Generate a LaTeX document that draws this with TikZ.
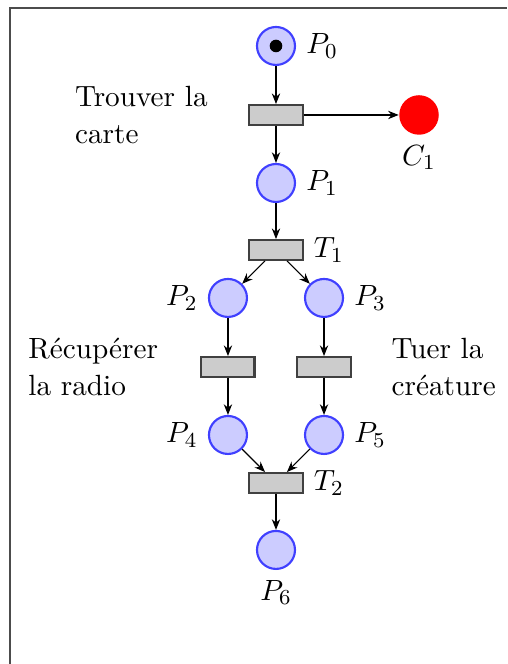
\documentclass[tikz,border=0pt,11pt]{standalone}
\usetikzlibrary{petri, arrows.meta, positioning}

\begin{document}
\begin{tikzpicture}[
    >={Stealth[length=1.4mm, width=1.1mm]},
    every node/.style={font=\normalsize},
    lieu/.style={circle, thick, draw=blue!75, fill=blue!20, minimum size=5mm, inner sep=0pt},
    trans/.style={rectangle, thick, draw=black!75, fill=black!20, minimum width=7mm, minimum height=2.6mm, inner sep=0pt},
    carte/.style={circle, fill=red, minimum size=5.2mm, inner sep=0pt},
    action/.style={align=left}
]

% Frame and margins
\useasboundingbox (-3.632,0.605) rectangle (3.040,-8.133);
\draw[black!70] (-3.50,-8.133) -- (-3.50,0.50) -- (3.040,0.50);

% Places
\node[lieu, tokens=1, label=right:$P_0$] (p0) at (0,0) {};
\node[lieu, label=right:$P_1$] (p1) at (0,-1.803) {};
\node[lieu, label=left:$P_2$] (p2) at (-0.632,-3.316) {};
\node[lieu, label=right:$P_3$] (p3) at (0.632,-3.316) {};
\node[lieu, label=left:$P_4$] (p4) at (-0.632,-5.119) {};
\node[lieu, label=right:$P_5$] (p5) at (0.632,-5.119) {};
\node[lieu, label=below:$P_6$] (p6) at (0,-6.632) {};

% Transitions
\node[trans] (t0) at (0,-0.908) {};
\node[trans, label=right:$T_1$] (t1) at (0,-2.685) {};
\node[trans] (tradio) at (-0.632,-4.224) {};
\node[trans] (tcreat) at (0.632,-4.224) {};
\node[trans, label=right:$T_2$] (t2) at (0,-5.751) {};

% Map found
\node[carte, label=below:$C_1$] (c1) at (1.882,-0.908) {};

% Actions
\node[action, left=4.0mm of t0] (trouver) {Trouver la\\carte};
\node[action, left=4.2mm of tradio] (radio) {R\'ecup\'erer\\la radio};
\node[action, right=3.9mm of tcreat] (tuer) {Tuer la\\cr\'eature};

% Arcs
\draw[->] (p0) -- (t0);
\draw[->] (t0) -- (c1);
\draw[->] (t0) -- (p1);
\draw[->] (p1) -- (t1);
\draw[->] (t1) -- (p2);
\draw[->] (t1) -- (p3);
\draw[->] (p2) -- (tradio);
\draw[->] (p3) -- (tcreat);
\draw[->] (tradio) -- (p4);
\draw[->] (tcreat) -- (p5);
\draw[->] (p4) -- (t2);
\draw[->] (p5) -- (t2);
\draw[->] (t2) -- (p6);

\end{tikzpicture}
\end{document}
